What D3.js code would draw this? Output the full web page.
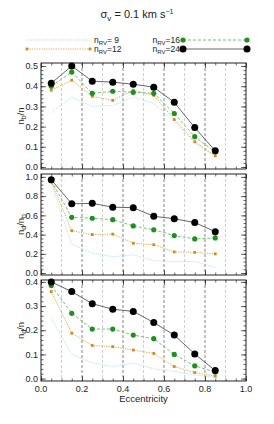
<!DOCTYPE html>
<html><head><meta charset="utf-8">
<script src="https://cdn.jsdelivr.net/npm/d3@7"></script>
<style>body{margin:0;background:#fff}svg{display:block;font-family:"Liberation Sans",Arial,sans-serif}</style>
</head><body><svg id="c" width="274" height="424"></svg>
<script>
const ecc = [0.05,0.15,0.25,0.35,0.45,0.55,0.65,0.75,0.85];
const seriesNames = ["9","12","16","24"];
// panel 1: n_b/n
const nb_n_9  = [0.27,0.345,0.30,0.305,0.345,0.315,0.225,0.12,0.05];
const nb_n_12 = [0.38,0.43,0.35,0.33,0.38,0.355,0.235,0.125,0.055];
const nb_n_16 = [0.40,0.47,0.365,0.375,0.37,0.365,0.265,0.15,0.075];
const nb_n_24 = [0.415,0.50,0.425,0.42,0.41,0.395,0.32,0.195,0.08];
// panel 2: n_d/n_b
const nd_nb_9  = [0.93,0.30,0.21,0.17,0.19,0.13,0.12,0.12,0.06];
const nd_nb_12 = [0.95,0.44,0.40,0.405,0.31,0.295,0.22,0.215,0.20];
const nd_nb_16 = [0.96,0.58,0.57,0.555,0.49,0.45,0.39,0.355,0.365];
const nd_nb_24 = [0.97,0.72,0.725,0.685,0.68,0.59,0.565,0.525,0.43];
// panel 3: n_d/n
const nd_n_9  = [0.25,0.10,0.065,0.05,0.065,0.04,0.03,0.015,0.005];
const nd_n_12 = [0.36,0.188,0.137,0.132,0.118,0.104,0.05,0.025,0.01];
const nd_n_16 = [0.385,0.27,0.205,0.205,0.18,0.165,0.10,0.053,0.027];
const nd_n_24 = [0.40,0.36,0.31,0.287,0.278,0.232,0.18,0.102,0.033];
const xTickLabels = ["0.0","0.2","0.4","0.6","0.8","1.0"];

const svg = d3.select("#c");
const x = d3.scaleLinear().domain([0,1]).range([41,246]);

const styles = [
  {line:"#a8dcef", dash:"1,1", w:0.9, mark:"none"},
  {line:"#d9a03a", dash:"1.2,1.2", w:0.9, mark:"sq", fill:"#d08a1e", r:1.4},
  {line:"#5fbf5f", dash:"3,2", w:0.9, mark:"circle", fill:"#1f8f1f", r:2.6},
  {line:"#555", dash:null, w:0.9, mark:"circle", fill:"#000", r:3.5}
];

const panels = [
  {top:63,bottom:169,dom:[-0.01,0.515],major:0.1,ticks:[0,0.1,0.2,0.3,0.4,0.5],fmt:".1f",
   data:[nb_n_9,nb_n_12,nb_n_16,nb_n_24], lab:[["n",""],["b","sub"],["/n",""]]},
  {top:174,bottom:275,dom:[-0.02,1.03],major:0.2,ticks:[0,0.2,0.4,0.6,0.8,1.0],fmt:".1f",
   data:[nd_nb_9,nd_nb_12,nd_nb_16,nd_nb_24], lab:[["n",""],["d","sub"],["/n",""],["b","sub"]]},
  {top:280,bottom:381,dom:[-0.01,0.408],major:0.1,ticks:[0,0.1,0.2,0.3,0.4],fmt:".1f",
   data:[nd_n_9,nd_n_12,nd_n_16,nd_n_24], lab:[["n",""],["d","sub"],["/n",""]]}
];

panels.forEach((p,pi)=>{
  const y = d3.scaleLinear().domain(p.dom).range([p.bottom,p.top]);
  const g = svg.append("g");
  // grid lines
  d3.range(1,10).forEach(i=>{
    const v=i/10, maj=(i%2===0);
    g.append("line").attr("x1",x(v)).attr("x2",x(v)).attr("y1",p.top).attr("y2",p.bottom)
      .attr("stroke",maj?"#666":"#c4c4c4").attr("stroke-width",0.8).attr("stroke-dasharray","3,2");
  });
  // axes (inward ticks) via d3 axes
  const minorY = d3.range(Math.ceil(p.dom[0]/(p.major/5)), Math.floor(p.dom[1]/(p.major/5))+1).map(k=>k*p.major/5);
  const axL = d3.axisRight(y).tickValues(p.ticks).tickSize(5).tickFormat("");
  const axLm = d3.axisRight(y).tickValues(minorY).tickSize(2.5).tickFormat("");
  const axR = d3.axisLeft(y).tickValues(p.ticks).tickSize(5).tickFormat("");
  const axRm = d3.axisLeft(y).tickValues(minorY).tickSize(2.5).tickFormat("");
  const xMaj = [0,0.2,0.4,0.6,0.8,1.0];
  const xMin = d3.range(0,21).map(k=>k*0.05);
  const axB = d3.axisTop(x).tickValues(xMaj).tickSize(5).tickFormat("");
  const axBm = d3.axisTop(x).tickValues(xMin).tickSize(2.5).tickFormat("");
  const axT = d3.axisBottom(x).tickValues(xMaj).tickSize(5).tickFormat("");
  const axTm = d3.axisBottom(x).tickValues(xMin).tickSize(2.5).tickFormat("");
  const ax = [[axL,`translate(${x(0)},0)`],[axLm,`translate(${x(0)},0)`],[axR,`translate(${x(1)},0)`],[axRm,`translate(${x(1)},0)`],
              [axB,`translate(0,${p.bottom})`],[axBm,`translate(0,${p.bottom})`],[axT,`translate(0,${p.top})`],[axTm,`translate(0,${p.top})`]];
  ax.forEach(([a,t])=>{
    const gg=g.append("g").attr("transform",t).call(a);
    gg.select(".domain").remove();
    gg.selectAll("line").attr("stroke","#222").attr("stroke-width",0.7);
  });
  g.append("rect").attr("x",x(0)).attr("y",p.top).attr("width",x(1)-x(0)).attr("height",p.bottom-p.top)
    .attr("fill","none").attr("stroke","#222").attr("stroke-width",1);
  // y tick labels
  p.ticks.forEach(v=>{
    g.append("text").attr("x",x(0)-3).attr("y",y(v)+3.2).attr("text-anchor","end")
      .attr("font-size",9).attr("fill","#222").text(d3.format(p.fmt)(v));
  });
  // y label
  const yl = g.append("text").attr("transform",`translate(24,${(p.top+p.bottom)/2}) rotate(-90)`)
    .attr("text-anchor","middle").attr("font-size",9.5).attr("fill","#222");
  p.lab.forEach(([t,s])=>{
    const ts = yl.append("tspan").text(t);
    if(s==="sub") ts.attr("font-size",7).attr("dy",2);
    else ts.attr("dy",-2).attr("dy", null);
  });
  // fix baseline after subscripts
  yl.selectAll("tspan").each(function(d,i){
    const el=d3.select(this);
    const isSub = p.lab[i][1]==="sub";
    const prevSub = i>0 && p.lab[i-1][1]==="sub";
    if(isSub) el.attr("dy",2); else if(prevSub) el.attr("dy",-2);
  });
  // series
  const line = d3.line().x((d,i)=>x(ecc[i])).y(d=>y(d));
  p.data.forEach((arr,si)=>{
    const s=styles[si];
    g.append("path").attr("d",line(arr)).attr("fill","none").attr("stroke",s.line)
      .attr("stroke-width",s.w).attr("stroke-dasharray",s.dash);
    if(s.mark==="circle"){
      g.selectAll(null).data(arr).enter().append("circle").attr("cx",(d,i)=>x(ecc[i])).attr("cy",d=>y(d))
        .attr("r",s.r).attr("fill",s.fill);
    } else if(s.mark==="sq"){
      g.selectAll(null).data(arr).enter().append("rect").attr("x",(d,i)=>x(ecc[i])-s.r).attr("y",d=>y(d)-s.r)
        .attr("width",2*s.r).attr("height",2*s.r).attr("fill",s.fill);
    }
  });
  if(pi===2){
    xTickLabels.forEach((t,i)=>{
      g.append("text").attr("x",x(i*0.2)).attr("y",p.bottom+11).attr("text-anchor","middle")
        .attr("font-size",9).attr("fill","#222").text(t);
    });
    g.append("text").attr("x",(x(0)+x(1))/2).attr("y",p.bottom+21).attr("text-anchor","middle")
      .attr("font-size",9.5).attr("fill","#222").text("Eccentricity");
  }
});

// title
const tt = svg.append("text").attr("x",137).attr("y",18).attr("text-anchor","middle").attr("font-size",11).attr("fill","#222");
tt.append("tspan").text("σ");
tt.append("tspan").text("v").attr("font-size",8).attr("dy",2.5);
tt.append("tspan").text(" = 0.1 km s").attr("dy",-2.5);
tt.append("tspan").text("−1").attr("font-size",7).attr("dy",-4);

// legend
function legLabel(xp,yp,num,anchor){
  const t = svg.append("text").attr("x",xp).attr("y",yp).attr("font-size",8.5).attr("fill","#222").attr("text-anchor",anchor);
  t.append("tspan").text("n");
  t.append("tspan").text("RV").attr("font-size",6).attr("dy",2);
  t.append("tspan").text("="+num).attr("dy",-2);
}
const legend = [
  {si:0,x1:27,x2:90,y:40,tx:94,anchor:"start",num:" 9"},
  {si:1,x1:27,x2:90,y:49,tx:94,anchor:"start",num:"12"},
  {si:2,x1:183,x2:247,y:40,tx:180,anchor:"end",num:"16"},
  {si:3,x1:183,x2:247,y:49,tx:180,anchor:"end",num:"24"}
];
legend.forEach(l=>{
  const s=styles[l.si];
  svg.append("line").attr("x1",l.x1).attr("x2",l.x2).attr("y1",l.y).attr("y2",l.y)
    .attr("stroke",s.line).attr("stroke-width",s.w).attr("stroke-dasharray",s.dash);
  [l.x1,l.x2].forEach(xx=>{
    if(s.mark==="circle") svg.append("circle").attr("cx",xx).attr("cy",l.y).attr("r",s.r).attr("fill",s.fill);
    else if(s.mark==="sq") svg.append("rect").attr("x",xx-s.r).attr("y",l.y-s.r).attr("width",2*s.r).attr("height",2*s.r).attr("fill",s.fill);
  });
  legLabel(l.tx,l.y+3,seriesNames[l.si]==="9"?" 9":seriesNames[l.si],l.anchor);
});
</script></body></html>
